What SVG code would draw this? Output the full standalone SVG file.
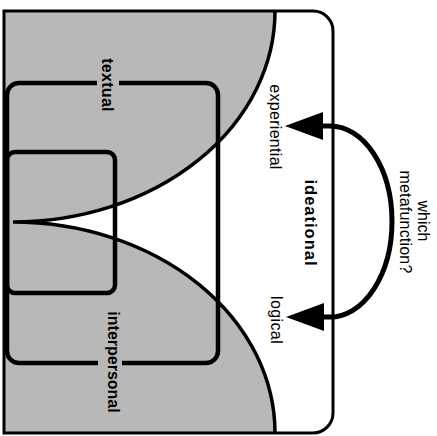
<svg xmlns="http://www.w3.org/2000/svg" width="437" height="436" viewBox="0 0 437 436">
  <style>
    .shade { fill: #b8b8b8; stroke: none; }
    .curve { fill: none; stroke: #000; stroke-width: 3.5; }
    .box { fill: none; stroke: #000; stroke-width: 4.5; stroke-linejoin: round; }
    .frame { fill: none; stroke: #000; stroke-width: 3; }
    .bold { font-family: "Liberation Sans", Arial, sans-serif; font-size: 16px; font-weight: bold; letter-spacing: 0.3px; fill: #000; }
    .plain { font-family: "Liberation Sans", Arial, sans-serif; font-size: 16px; letter-spacing: 0.3px; fill: #000; }
    .arc { fill: none; stroke: #000; stroke-width: 5; }
  </style>

  <!-- shaded regions above and below the pinch -->
  <g id="regions">
    <path class="shade" d="M4,11 H275 A262,211 0 0 1 13,222 A262,211 0 0 1 275,433 H4 Z"/>
    <path class="curve" d="M275,11 A262,211 0 0 1 13,222 A262,211 0 0 1 275,433"/>
  </g>

  <!-- textual / interpersonal box -->
  <g id="outer-box">
    <path class="box" d="M97,83 H19 A12,12 0 0 0 7,95 V351 A12,12 0 0 0 19,363 H98 M122,363 H206 A12,12 0 0 0 218,351 V95 A12,12 0 0 0 206,83 H119"/>
    <text class="bold" transform="translate(102,85) rotate(90)" text-anchor="middle">textual</text>
    <text class="bold" transform="translate(108,362) rotate(90)" text-anchor="middle" style="letter-spacing:0">interpersonal</text>
  </g>

  <!-- inner box -->
  <g id="inner-box">
    <rect class="box" x="7" y="152" width="108" height="141" rx="8"/>
  </g>

  <!-- ideational frame -->
  <g id="frame">
    <path class="frame" d="M4,11 H313 A20,20 0 0 1 333,31 V413 A20,20 0 0 1 313,433 H4 Z"/>
    <text class="plain" transform="translate(270,127) rotate(90)" text-anchor="middle">experiential</text>
    <text class="bold" transform="translate(305,223) rotate(90)" text-anchor="middle" style="font-size:16.5px;letter-spacing:1px">ideational</text>
    <text class="plain" transform="translate(271,320) rotate(90)" text-anchor="middle" style="letter-spacing:0.4px">logical</text>
  </g>

  <!-- question label -->
  <g id="question">
    <text class="plain" transform="translate(418,221) rotate(90)" text-anchor="middle" style="letter-spacing:0">which</text>
    <text class="plain" transform="translate(400,222) rotate(90)" text-anchor="middle" style="letter-spacing:0.2px">metafunction?</text>
  </g>

  <!-- double-headed curved connector -->
  <g id="connectors">
    <path class="arc" d="M320,126 H330 A62,95.5 0 0 1 330,317 H320"/>
    <polygon points="285,126 323,112 323,140" fill="#000"/>
    <polygon points="286,317 324,303 324,331" fill="#000"/>
  </g>
</svg>
